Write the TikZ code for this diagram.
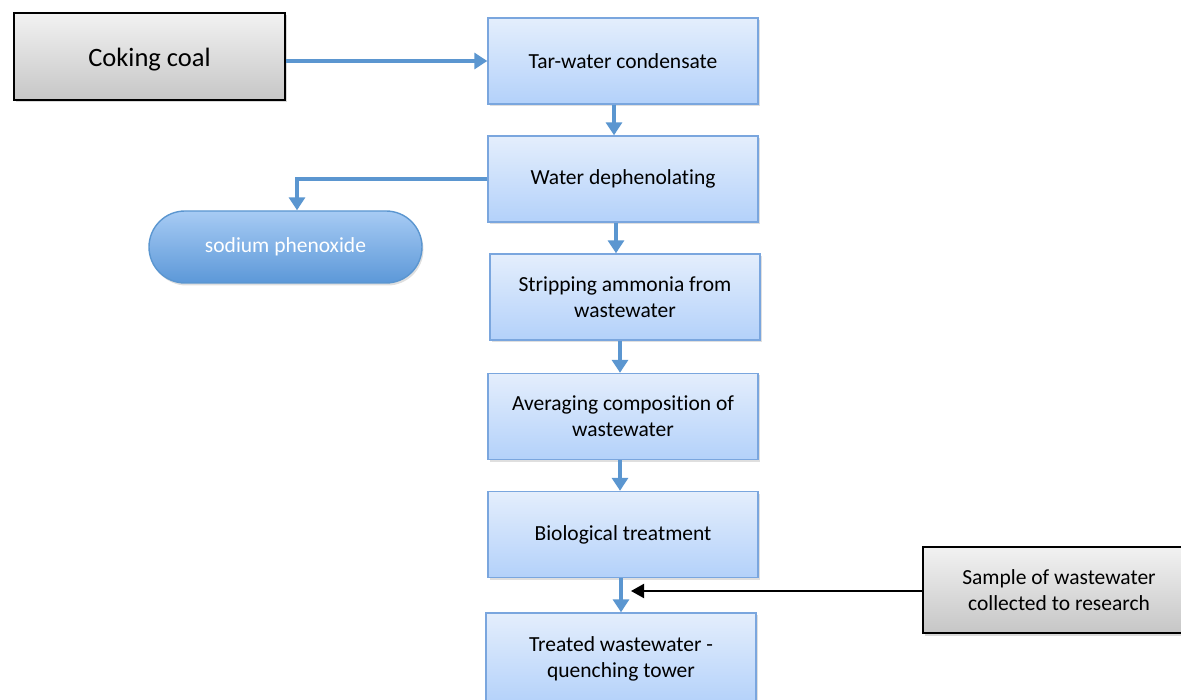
\documentclass[tikz,border=0pt]{standalone}
\usepackage{fontspec}
\setmainfont{Carlito}[Ligatures={NoCommon}]
\usetikzlibrary{shadows,arrows.meta,positioning}
\definecolor{boxtop}{HTML}{E4EEFC}
\definecolor{boxbot}{HTML}{B3D1FA}
\definecolor{boxline}{HTML}{7AA6DE}
\definecolor{graytop}{HTML}{F2F2F2}
\definecolor{graybot}{HTML}{C6C6C6}
\definecolor{flowblue}{HTML}{5B96D0}
\definecolor{podtop}{HTML}{A7CBF4}
\definecolor{podbot}{HTML}{5C98D8}
\tikzset{
  procbox/.style={draw=boxline, line width=1.4pt, top color=boxtop, bottom color=boxbot,
    minimum width=270pt, minimum height=86pt, inner sep=2pt, align=center,
    font=\fontsize{21.5}{26}\selectfont,
    drop shadow={shadow xshift=1.5pt, shadow yshift=-2pt, opacity=0.25}},
  graybox/.style={draw=black, line width=1.4pt, top color=graytop, bottom color=graybot,
    inner sep=2pt, align=center,
    drop shadow={shadow xshift=1.5pt, shadow yshift=-2.5pt, opacity=0.3}},
  podbox/.style={draw=flowblue, line width=1.4pt, top color=podtop, bottom color=podbot,
    rounded corners=36pt, minimum width=273pt, minimum height=72pt, text=white,
    font=\fontsize{21.5}{26}\selectfont,
    drop shadow={shadow xshift=1.5pt, shadow yshift=-2.5pt, opacity=0.25}},
  flow/.style={draw=flowblue, line width=4.5pt, -{Triangle[length=13pt,width=16pt]}},
  blackarrow/.style={draw=black, line width=2pt, -{Triangle[length=13pt,width=14pt]}}
}
\begin{document}
\begin{tikzpicture}[x=1pt,y=-1pt]
\useasboundingbox (0,0) rectangle (1181,700);
\node[graybox, minimum width=271pt, minimum height=87pt, font=\fontsize{26.5}{32}\selectfont] (coal) at (149.5,56.5) {\rule{0pt}{24pt}Coking coal};
\node[procbox] (tar) at (623,61) {Tar-water condensate};
\node[procbox] (deph) at (623,179) {Water dephenolating};
\node[procbox] (strip) at (625,297) {Stripping ammonia from\\wastewater};
\node[procbox] (avg) at (623,416.5) {Averaging composition of\\wastewater};
\node[procbox] (bio) at (623,534.5) {Biological treatment};
\node[procbox, minimum height=92pt] (treat) at (621,659) {Treated wastewater -\\quenching tower};
\node[podbox] (sod) at (285.5,247) {sodium phenoxide};
\node[graybox, minimum width=272pt, minimum height=86pt, font=\fontsize{21.5}{26}\selectfont] (sample) at (1059,590) {Sample of wastewater\\collected to research};

\draw[flow] (tar.west -| coal.east) -- (tar.west);
\draw[flow] ([xshift=-9pt]tar.south) -- ([xshift=-9pt]tar.south |- deph.north);
\draw[flow] ([xshift=-7pt]deph.south) -- ([xshift=-7pt]deph.south |- strip.north);
\draw[flow] ([xshift=-5pt]strip.south) -- ([xshift=-5pt]strip.south |- avg.north);
\draw[flow] ([xshift=-3pt]avg.south) -- ([xshift=-3pt]avg.south |- bio.north);
\draw[flow] ([xshift=-2pt]bio.south) -- ([xshift=-2pt]bio.south |- treat.north);
\draw[flow] (deph.west) -| ([xshift=11.5pt]sod.north);
\coordinate (tip) at (631,591);
\draw[blackarrow] (sample.west |- tip) -- (tip);
\end{tikzpicture}
\end{document}
